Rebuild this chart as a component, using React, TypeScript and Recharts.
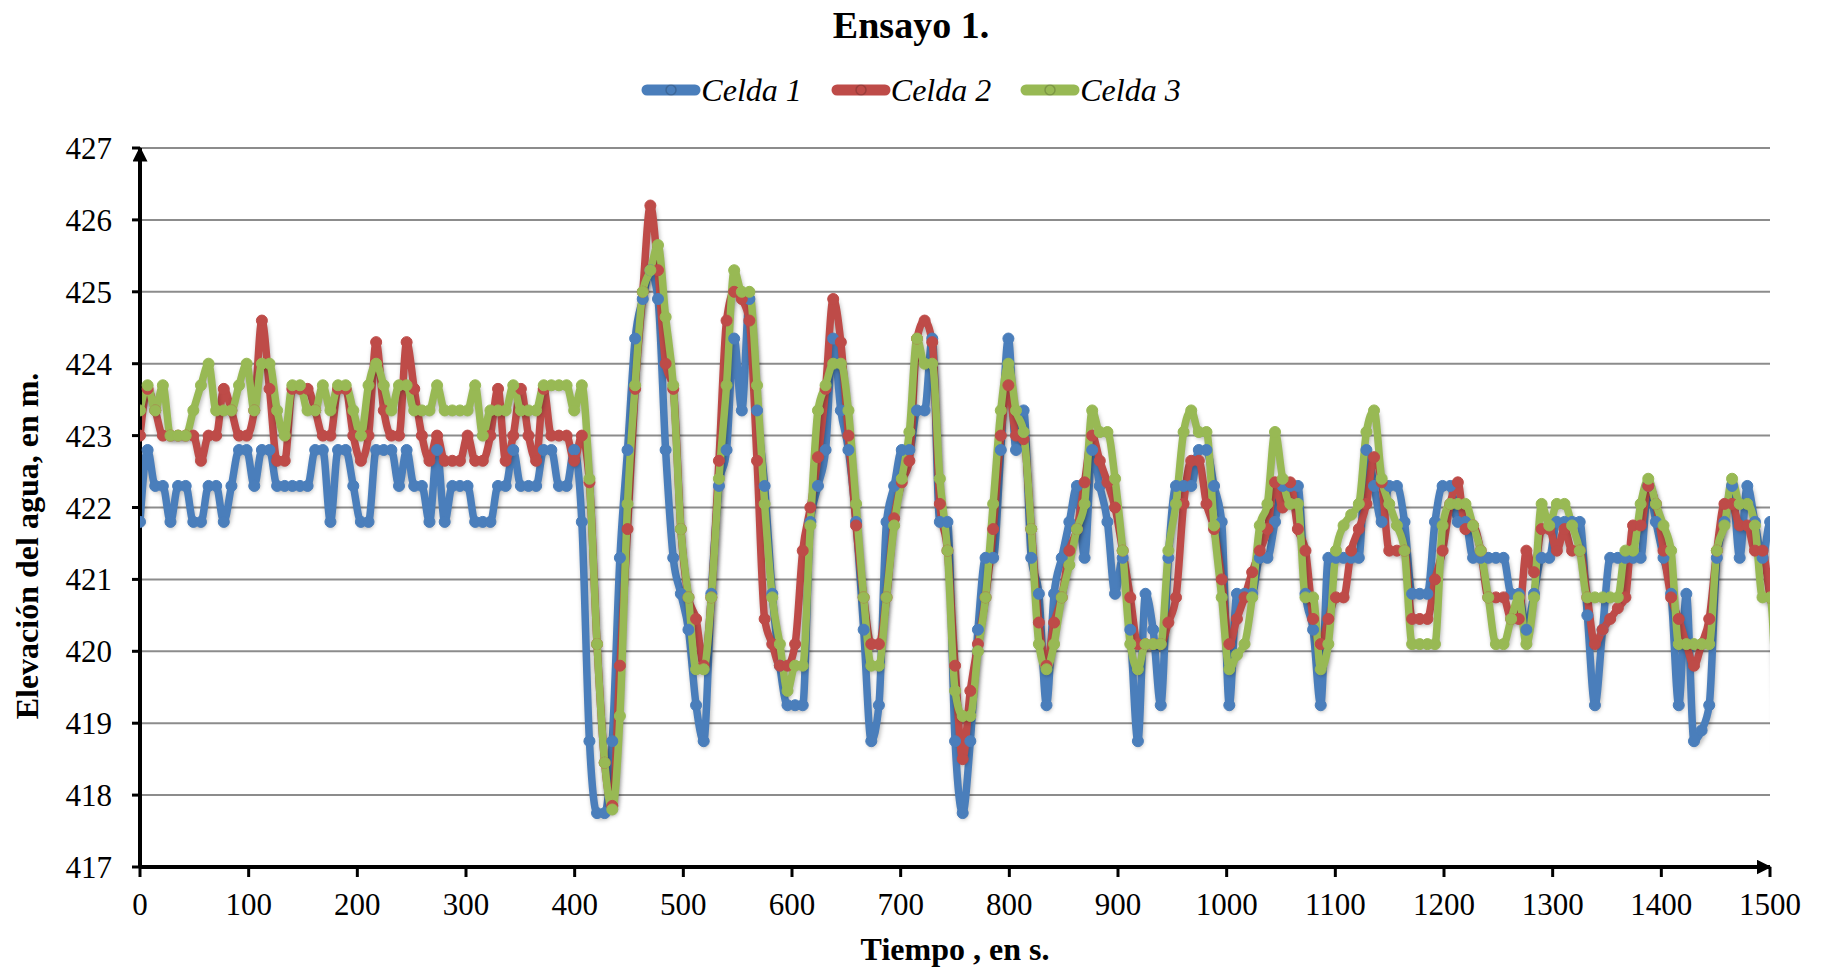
import { LineChart, Line, XAxis, YAxis, CartesianGrid } from "recharts";

document.body.style.margin = "0";

// sampling interval of the record, in seconds
const STEP = 7.01;

const celda1 = [
  421.8, 422.8, 422.3, 422.3, 421.8, 422.3, 422.3, 421.8, 421.8, 422.3,
  422.3, 421.8, 422.3, 422.8, 422.8, 422.3, 422.8, 422.8, 422.3, 422.3,
  422.3, 422.3, 422.3, 422.8, 422.8, 421.8, 422.8, 422.8, 422.3, 421.8,
  421.8, 422.8, 422.8, 422.8, 422.3, 422.8, 422.3, 422.3, 421.8, 422.8,
  421.8, 422.3, 422.3, 422.3, 421.8, 421.8, 421.8, 422.3, 422.3, 422.8,
  422.3, 422.3, 422.3, 422.8, 422.8, 422.3, 422.3, 422.8, 421.8, 418.75,
  417.75, 417.75, 418.75, 421.3, 422.8, 424.35, 424.9, 425.3, 424.9, 422.8,
  421.3, 420.8, 420.3, 419.25, 418.75, 420.8, 422.3, 422.8, 424.35, 423.35,
  424.9, 423.35, 422.3, 420.8, 419.8, 419.25, 419.25, 419.25, 421.8, 422.3,
  422.8, 424.35, 423.35, 422.8, 421.8, 420.3, 418.75, 419.25, 421.8, 422.3,
  422.8, 422.8, 423.35, 423.35, 424.35, 421.8, 421.8, 418.75, 417.75, 418.75,
  420.3, 421.3, 421.3, 422.8, 424.35, 422.8, 423.35, 421.3, 420.8, 419.25,
  420.8, 421.3, 421.8, 422.3, 421.3, 422.8, 422.3, 421.8, 420.8, 421.3,
  420.3, 418.75, 420.8, 420.3, 419.25, 421.3, 422.3, 422.3, 422.3, 422.8,
  422.8, 422.3, 421.8, 419.25, 420.8, 420.8, 420.8, 421.3, 421.3, 421.8,
  422.3, 422.3, 422.3, 420.8, 420.3, 419.25, 421.3, 421.3, 421.3, 421.3,
  421.3, 422.8, 422.3, 421.8, 422.3, 422.3, 421.8, 420.8, 420.8, 420.8,
  421.8, 422.3, 422.3, 421.8, 421.8, 421.3, 421.3, 421.3, 421.3, 421.3,
  420.8, 420.8, 420.3, 420.8, 421.3, 421.3, 421.8, 421.8, 421.8, 421.8,
  420.5, 419.25, 420.3, 421.3, 421.3, 421.3, 421.3, 421.3, 422.3, 421.8,
  421.3, 420.8, 419.25, 420.8, 418.75, 418.9, 419.25, 421.3, 421.8, 422.3,
  421.3, 422.3, 421.8, 421.3, 421.8, 421.8,
];

const celda2 = [
  423.0, 423.65, 423.35, 423.0, 423.0, 423.0, 423.0, 423.0, 422.65, 423.0,
  423.0, 423.65, 423.35, 423.0, 423.0, 423.35, 424.6, 423.65, 422.65, 422.65,
  423.65, 423.65, 423.65, 423.35, 423.0, 423.0, 423.65, 423.65, 423.0, 422.65,
  423.0, 424.3, 423.35, 423.0, 423.0, 424.3, 423.65, 423.0, 422.65, 423.0,
  422.65, 422.65, 422.65, 423.0, 422.65, 422.65, 423.0, 423.65, 422.65, 423.0,
  423.65, 423.0, 422.65, 423.65, 423.0, 423.0, 423.0, 422.65, 423.0, 422.35,
  420.1, 418.45, 417.85, 419.8, 421.7, 423.65, 425.0, 426.2, 425.3, 424.0,
  423.65, 421.7, 420.75, 420.45, 419.8, 420.75, 422.65, 424.6, 425.0, 424.9,
  424.6, 422.65, 420.45, 420.1, 419.8, 419.8, 420.1, 421.4, 422.0, 422.7,
  423.65, 424.9, 424.3, 423.0, 421.75, 420.75, 420.1, 420.1, 420.75, 421.85,
  422.35, 422.65, 424.35, 424.6, 424.3, 422.05, 421.4, 419.8, 418.5, 419.45,
  420.1, 420.75, 421.7, 423.0, 423.7, 423.0, 422.95, 421.7, 420.4, 419.8,
  420.4, 420.75, 421.4, 421.7, 422.35, 423.0, 422.65, 422.35, 422.0, 421.4,
  420.75, 420.1, 420.1, 420.1, 420.1, 420.4, 420.75, 422.05, 422.65, 422.65,
  422.05, 421.7, 421.0, 420.1, 420.45, 420.75, 421.1, 421.4, 421.7, 422.35,
  422.0, 422.35, 421.7, 421.4, 420.45, 420.1, 420.45, 420.75, 420.75, 421.4,
  421.7, 422.05, 422.7, 422.35, 421.4, 421.4, 421.4, 420.45, 420.45, 420.45,
  421.0, 421.4, 422.05, 422.35, 421.7, 421.75, 421.4, 420.75, 420.75, 420.75,
  420.45, 420.45, 421.4, 421.1, 421.7, 421.7, 421.4, 421.7, 421.4, 421.4,
  420.75, 420.1, 420.3, 420.45, 420.6, 420.75, 421.75, 421.75, 422.3, 422.05,
  421.4, 420.75, 420.45, 420.1, 419.8, 420.1, 420.45, 421.4, 422.05, 422.05,
  421.75, 421.75, 421.4, 421.4, 420.75, 420.4,
];

const celda3 = [
  423.35, 423.7, 423.35, 423.7, 423.0, 423.0, 423.0, 423.35, 423.7, 424.0,
  423.35, 423.35, 423.35, 423.7, 424.0, 423.35, 424.0, 424.0, 423.35, 423.0,
  423.7, 423.7, 423.35, 423.35, 423.7, 423.35, 423.7, 423.7, 423.35, 423.0,
  423.7, 424.0, 423.7, 423.35, 423.7, 423.7, 423.35, 423.35, 423.35, 423.7,
  423.35, 423.35, 423.35, 423.35, 423.7, 423.0, 423.35, 423.35, 423.35, 423.7,
  423.35, 423.35, 423.35, 423.7, 423.7, 423.7, 423.7, 423.35, 423.7, 422.4,
  420.1, 418.45, 417.8, 419.1, 422.05, 423.7, 425.0, 425.3, 425.65, 424.65,
  423.7, 421.7, 420.75, 419.75, 419.75, 420.75, 422.4, 423.7, 425.3, 425.0,
  425.0, 423.7, 422.05, 420.75, 420.1, 419.45, 419.8, 419.8, 421.75, 423.35,
  423.7, 424.0, 424.0, 423.35, 422.05, 420.75, 419.8, 419.8, 420.75, 421.75,
  422.4, 423.05, 424.35, 424.0, 424.0, 422.4, 421.4, 419.45, 419.1, 419.1,
  420.0, 420.75, 422.05, 423.35, 424.0, 423.35, 423.05, 421.7, 420.1, 419.75,
  420.1, 420.75, 421.2, 421.7, 422.05, 423.35, 423.05, 423.05, 422.4, 421.4,
  420.1, 419.75, 420.1, 420.1, 420.1, 421.4, 422.05, 423.05, 423.35, 423.05,
  423.05, 421.75, 420.75, 419.75, 419.95, 420.1, 420.75, 421.75, 422.05, 423.05,
  422.4, 422.05, 422.05, 420.75, 420.75, 419.75, 420.1, 421.4, 421.75, 421.9,
  422.05, 423.05, 423.35, 422.4, 422.05, 421.75, 421.4, 420.1, 420.1, 420.1,
  420.1, 421.75, 422.05, 422.05, 422.05, 421.75, 421.4, 420.75, 420.1, 420.1,
  420.45, 420.75, 420.1, 420.75, 422.05, 421.75, 422.05, 422.05, 421.75, 421.4,
  420.75, 420.75, 420.75, 420.75, 420.75, 421.4, 421.4, 422.05, 422.4, 422.05,
  421.75, 421.4, 420.1, 420.1, 420.1, 420.1, 420.1, 421.4, 421.75, 422.4,
  422.05, 422.05, 421.75, 420.75, 420.75, 418.4,
];

const xTicks = [0, 100, 200, 300, 400, 500, 600, 700, 800, 900, 1000, 1100, 1200, 1300, 1400, 1500];
const yTicks = [417, 418, 419, 420, 421, 422, 423, 424, 425, 426, 427];

const series = [
  { key: "c1", name: "Celda 1", color: "#4A7EBB" },
  { key: "c2", name: "Celda 2", color: "#BE4B48" },
  { key: "c3", name: "Celda 3", color: "#98B954" },
];

const data = celda1.map((v, i) => ({ t: i * STEP, c1: v, c2: celda2[i], c3: celda3[i] }));

const FONT = '"Liberation Serif", "Times New Roman", serif';

function LegendIcon({ color }: { color: string }) {
  return (
    <svg width={60} height={14} style={{ display: "block" }}>
      <line x1={6} y1={7} x2={54} y2={7} stroke={color} strokeWidth={11} strokeLinecap="round" />
      <circle cx={30} cy={7} r={5} fill={color} stroke="rgba(0,0,0,0.18)" strokeWidth={1.5} />
    </svg>
  );
}

function YLabel() {
  return (
    <text x={27} y={546} transform="rotate(-90 27 546)" textAnchor="middle" dominantBaseline="central"
      fontSize={32} fontWeight={700} fill="#000" fontFamily={FONT}>
      Elevación del agua, en m.
    </text>
  );
}

export default function App() {
  return (
    <div style={{ position: "relative", width: 1822, height: 969, background: "#fff", fontFamily: FONT }}>
      <style>{`
        .recharts-line-curve { filter: drop-shadow(1px 3px 2px rgba(0,0,0,0.28)); }
      `}</style>
      <svg width={0} height={0} style={{ position: "absolute" }}>
        <defs>
          <marker id="axArrow" viewBox="0 0 10 10" refX={9} refY={5} markerWidth={15} markerHeight={15}
            markerUnits="userSpaceOnUse" orient="auto-start-reverse">
            <path d="M0,0 L10,5 L0,10 z" fill="#000" />
          </marker>
        </defs>
      </svg>

      <div style={{ position: "absolute", top: 3, left: 0, width: 1822, textAlign: "center", fontSize: 38, lineHeight: "44px", fontWeight: 700 }}>
        Ensayo 1.
      </div>

      <div style={{ position: "absolute", top: 73, left: 0, width: 1822, display: "flex", justifyContent: "center", gap: 29 }}>
        {series.map((s) => (
          <div key={s.key} style={{ display: "flex", alignItems: "center", gap: 0 }}>
            <LegendIcon color={s.color} />
            <span style={{ fontStyle: "italic", fontSize: 32, lineHeight: "34px" }}>{s.name}</span>
          </div>
        ))}
      </div>

      <LineChart width={1822} height={969} data={data} margin={{ top: 148, right: 52, left: 60, bottom: 42 }}>
        <CartesianGrid vertical={false} stroke="#8c8c8c" strokeWidth={2} />
        <XAxis
          type="number"
          dataKey="t"
          domain={[0, 1500]}
          ticks={xTicks}
          allowDataOverflow
          interval={0}
          height={60}
          axisLine={{ stroke: "#000", strokeWidth: 4, markerEnd: "url(#axArrow)" }}
          tickLine={{ stroke: "#000", strokeWidth: 3 }}
          tickSize={10}
          tickMargin={16}
          tick={{ fontSize: 31, fill: "#000", fontFamily: FONT }}
          label={{ value: "Tiempo , en s.", position: "insideBottom", offset: -33, fontSize: 32, fontWeight: 700, fill: "#000", fontFamily: FONT }}
        />
        <YAxis
          type="number"
          domain={[417, 427]}
          ticks={yTicks}
          interval={0}
          width={80}
          axisLine={{ stroke: "#000", strokeWidth: 4, markerStart: "url(#axArrow)" }}
          tickLine={{ stroke: "#000", strokeWidth: 3 }}
          tickSize={8}
          tickMargin={20}
          tick={{ fontSize: 31, fill: "#000", fontFamily: FONT }}
          label={<YLabel />}
        />
        {series.map((s) => (
          <Line
            key={s.key}
            type="monotone"
            dataKey={s.key}
            name={s.name}
            stroke={s.color}
            strokeWidth={7.5}
            dot={{ r: 5.5, fill: s.color, stroke: s.color, strokeWidth: 1 }}
            isAnimationActive={false}
          />
        ))}
      </LineChart>
    </div>
  );
}
